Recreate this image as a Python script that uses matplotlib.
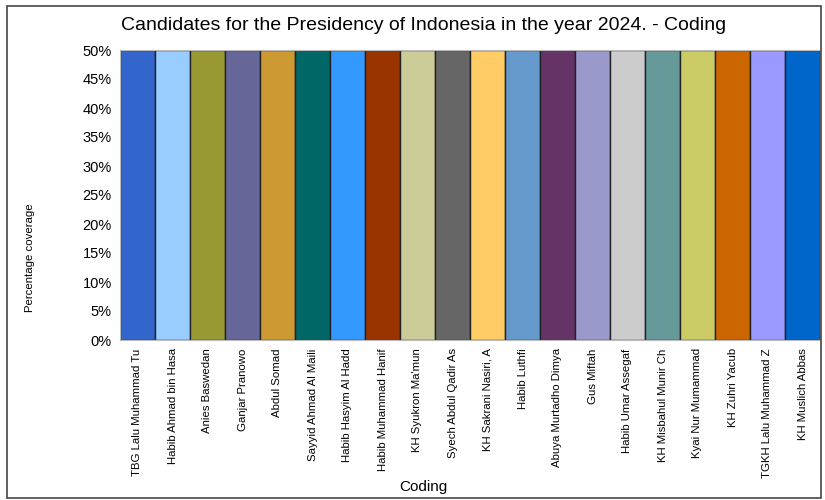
import matplotlib.pyplot as plt
from matplotlib.patches import Rectangle
import matplotlib

matplotlib.rcParams['font.family'] = ['Liberation Sans', 'DejaVu Sans']

# candidate names and coverage values
candidates = ['TBG Lalu Muhammad Tu', 'Habib Ahmad bin Hasa', 'Anies Baswedan',
              'Ganjar Pranowo', 'Abdul Somad', 'Sayyid Ahmad Al Maili',
              'Habib Hasyim Al Hadd', 'Habib Muhammad Hanif', "KH Syukron Ma'mun",
              'Syech Abdul Qadir As', 'KH Sakrani Nasiri, A', 'Habib Luthfi',
              'Abuya Murtadho Dimya', 'Gus Miftah', 'Habib Umar Assegaf',
              'KH Misbahul Munir Ch', 'Kyai Nur Mumammad', 'KH Zuhri Yacub',
              'TGKH Lalu Muhammad Z', 'KH Muslich Abbas']
coverage = [50] * 20
colors = ['#3366CC', '#99CCFF', '#999933', '#666699', '#CC9933', '#006666',
          '#3399FF', '#993300', '#CCCC99', '#666666', '#FFCC66', '#6699CC',
          '#663366', '#9999CC', '#CCCCCC', '#669999', '#CCCC66', '#CC6600',
          '#9999FF', '#0066CC']
yticks = [0, 5, 10, 15, 20, 25, 30, 35, 40, 45, 50]

fig = plt.figure(figsize=(8.25, 5), dpi=100)
fig.patches.append(Rectangle((0.008, 0.004), 0.987, 0.984, transform=fig.transFigure,
                             fill=False, edgecolor='#444444', linewidth=1.2))

ax = fig.add_axes([120 / 825, 1 - 340 / 500, 700 / 825, 290 / 500])
x = range(len(candidates))
ax.bar(x, coverage, width=1.0, color=colors, edgecolor='#222222', linewidth=1.0)

ax.set_xlim(-0.5, len(candidates) - 0.5)
ax.set_ylim(0, 50)
ax.set_yticks(yticks)
ax.set_yticklabels([f'{v}%' for v in yticks], fontsize=10.5)
ax.set_xticks(list(x))
ax.set_xticklabels(candidates, rotation=90, fontsize=8.2)
ax.tick_params(length=0, pad=6)
for s in ax.spines.values():
    s.set_color('#bbbbbb')
    s.set_linewidth(0.8)

fig.text(424 / 825, 1 - 25 / 500, 'Candidates for the Presidency of Indonesia in the year 2024. - Coding',
         ha='center', va='center', fontsize=14)
fig.text(30 / 825, 1 - 258 / 500, 'Percentage coverage', rotation=90,
         ha='center', va='center', fontsize=8.2)
fig.text(423 / 825, 1 - 487 / 500, 'Coding', ha='center', va='center', fontsize=11)

fig.savefig('out.png', dpi=100)
